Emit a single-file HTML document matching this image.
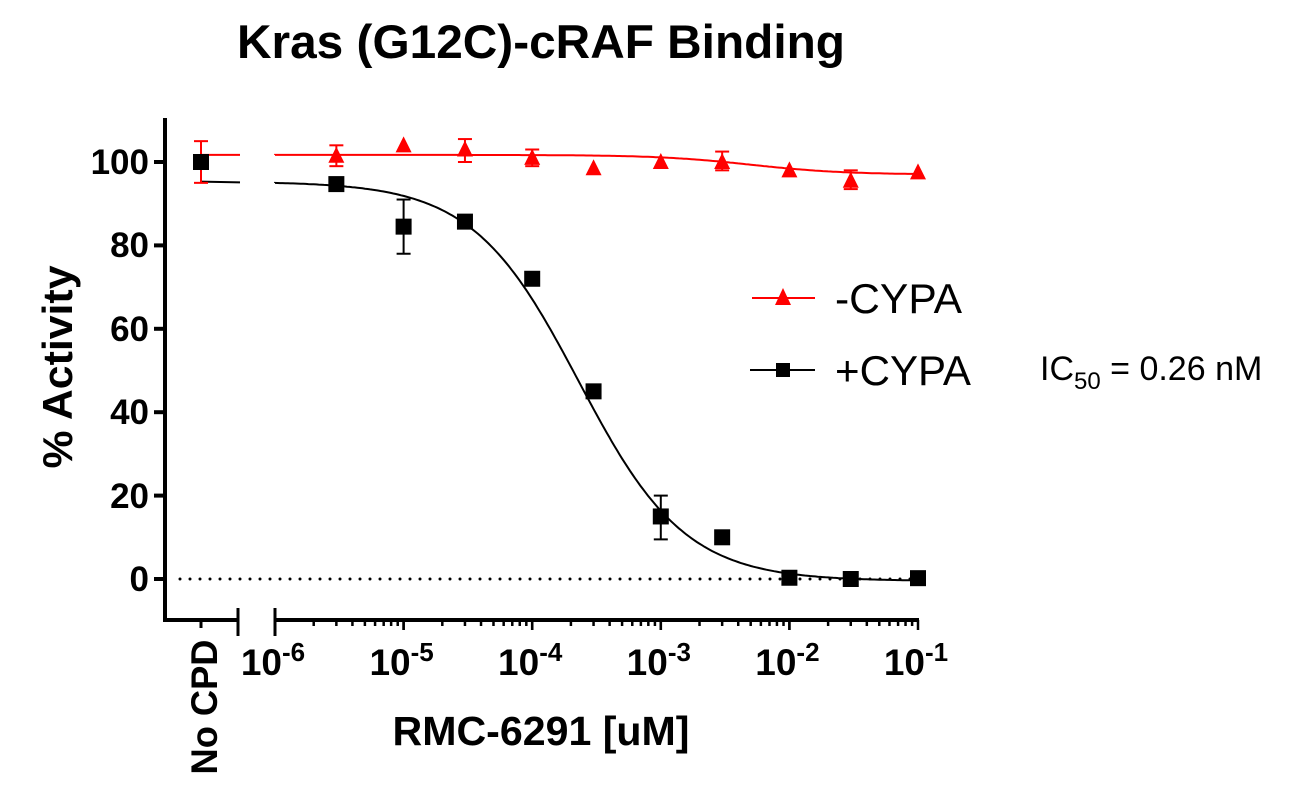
<!DOCTYPE html>
<html><head><meta charset="utf-8"><style>
html,body{margin:0;padding:0;background:#fff}
svg{display:block}
text{font-family:"Liberation Sans",Arial,sans-serif}
</style></head><body>
<svg id="s" width="1290" height="790" viewBox="0 0 1290 790" xmlns="http://www.w3.org/2000/svg">
<text x="541" y="58" text-anchor="middle" font-size="47" font-weight="bold" textLength="608" lengthAdjust="spacingAndGlyphs">Kras (G12C)-cRAF Binding</text>
<text transform="translate(72,367) rotate(-90)" text-anchor="middle" font-size="42" font-weight="bold" textLength="203" lengthAdjust="spacingAndGlyphs">% Activity</text>
<text x="541" y="745" text-anchor="middle" font-size="41" font-weight="bold" textLength="297" lengthAdjust="spacingAndGlyphs">RMC-6291 [uM]</text>
<text transform="translate(217,707) rotate(-90)" text-anchor="middle" font-size="37" font-weight="bold" textLength="135" lengthAdjust="spacingAndGlyphs">No CPD</text>
<g font-size="35" font-weight="bold" text-anchor="end">
<text x="149" y="174">100</text><text x="149" y="257">80</text><text x="149" y="341">60</text>
<text x="149" y="424">40</text><text x="149" y="508">20</text><text x="149" y="591">0</text>
</g>
<g id="xl" font-size="37" font-weight="bold"></g>
<g font-size="42">
<text x="835" y="313" textLength="127" lengthAdjust="spacingAndGlyphs">-CYPA</text><text x="835" y="385" textLength="136" lengthAdjust="spacingAndGlyphs">+CYPA</text>
</g>
<text x="1040" y="380" font-size="34">IC<tspan font-size="24" dy="9">50</tspan><tspan dy="-9"> = 0.26 nM</tspan></text>
<line x1="752" y1="298" x2="815" y2="298" stroke="#f00" stroke-width="2"/>
<polygon points="783,288 775,305 791,305" fill="#f00"/>
<line x1="750" y1="370" x2="815" y2="370" stroke="#000" stroke-width="2"/>
<rect x="776" y="363" width="14" height="14" fill="#000"/>
<g id="g"></g>
</svg>
<script>
var g=document.getElementById('g'),xl=document.getElementById('xl'),NS='http://www.w3.org/2000/svg';
function el(t,a,p){var e=document.createElementNS(NS,t);for(var k in a)e.setAttribute(k,a[k]);(p||g).appendChild(e);return e;}
function X(l){return 275+(l+6)*128.6;}
function Y(v){return 579-v*4.17;}
el('line',{x1:165,y1:118,x2:165,y2:622,stroke:'#000','stroke-width':4});
[0,20,40,60,80,100].forEach(function(v){el('line',{x1:154,y1:Y(v),x2:165,y2:Y(v),stroke:'#000','stroke-width':4});});
el('line',{x1:163,y1:620,x2:238,y2:620,stroke:'#000','stroke-width':4});
el('line',{x1:238,y1:608,x2:238,y2:636,stroke:'#000','stroke-width':3});
el('line',{x1:201,y1:620,x2:201,y2:628,stroke:'#000','stroke-width':3});
el('line',{x1:275,y1:620,x2:919,y2:620,stroke:'#000','stroke-width':4});
el('line',{x1:275,y1:608,x2:275,y2:636,stroke:'#000','stroke-width':3});
for(var d=-6;d<-1;d++){for(var m=1;m<=10;m++){var x=X(d+Math.log10(m));var L=(m==1||m==10)?10:6;el('line',{x1:x,y1:620,x2:x,y2:620+L,stroke:'#000','stroke-width':2.5});}}
for(var d=-6;d<=-1;d++){var t=el('text',{x:X(d)-2,y:675,'text-anchor':'middle'},xl);t.innerHTML='10<tspan font-size="26" dy="-14">'+d+'</tspan>';}
el('line',{x1:180,y1:579,x2:918,y2:579,stroke:'#000','stroke-width':3,'stroke-dasharray':'0 10','stroke-linecap':'round'});
function red(l){return 97+(101.7-97)/(1+Math.pow(10,(l+2.3)*1.2));}
function blk(l){return -0.5+95.8/(1+Math.pow(10,(l-Math.log10(2.3e-4))*1.05));}
function path(f,c){var p='M'+X(-6)+','+Y(f(-6));for(var l=-6;l<=-1.0001;l+=0.02)p+=' L'+X(l).toFixed(1)+','+Y(f(l)).toFixed(1);p+=' L'+X(-1)+','+Y(f(-1));el('path',{d:p,fill:'none',stroke:c,'stroke-width':2});}
path(red,'#f00');path(blk,'#000');
el('line',{x1:201,y1:Y(101.7),x2:240,y2:Y(101.7),stroke:'#f00','stroke-width':2});
el('line',{x1:201,y1:Y(95.3),x2:240,y2:Y(95.1),stroke:'#000','stroke-width':2});
function eb(x,lo,hi,c){el('line',{x1:x,y1:Y(lo),x2:x,y2:Y(hi),stroke:c,'stroke-width':2});[lo,hi].forEach(function(v){el('line',{x1:x-7,y1:Y(v),x2:x+7,y2:Y(v),stroke:c,'stroke-width':2});});}
function tri(x,v){var y=Y(v);el('polygon',{points:(x)+','+(y-9)+' '+(x-8)+','+(y+7)+' '+(x+8)+','+(y+7),fill:'#f00'});}
function sq(x,v){el('rect',{x:x-8,y:Y(v)-8,width:16,height:16,fill:'#000'});}
var L3=Math.log10(3);
var R=[[-6+L3,101.5,99,104],[-5,104],[-5+L3,103,100,105.5],[-4,101,99,103],[-4+L3,98.5],[-3,100],[-3+L3,100,98,102.5],[-2,98],[-2+L3,95.5,93.5,98],[-1,97.5]];
var B=[[-6+L3,94.7],[-5,84.5,78,91],[-5+L3,85.7],[-4,72],[-4+L3,45],[-3,15,9.5,20],[-3+L3,10],[-2,0.3],[-2+L3,0],[-1,0.2]];
eb(201,95,105,'#f00');sq(201,100);
R.forEach(function(r){var x=X(r[0]);if(r.length>2)eb(x,r[2],r[3],'#f00');tri(x,r[1]);});
B.forEach(function(r){var x=X(r[0]);if(r.length>2)eb(x,r[2],r[3],'#000');sq(x,r[1]);});
</script>
</body></html>
